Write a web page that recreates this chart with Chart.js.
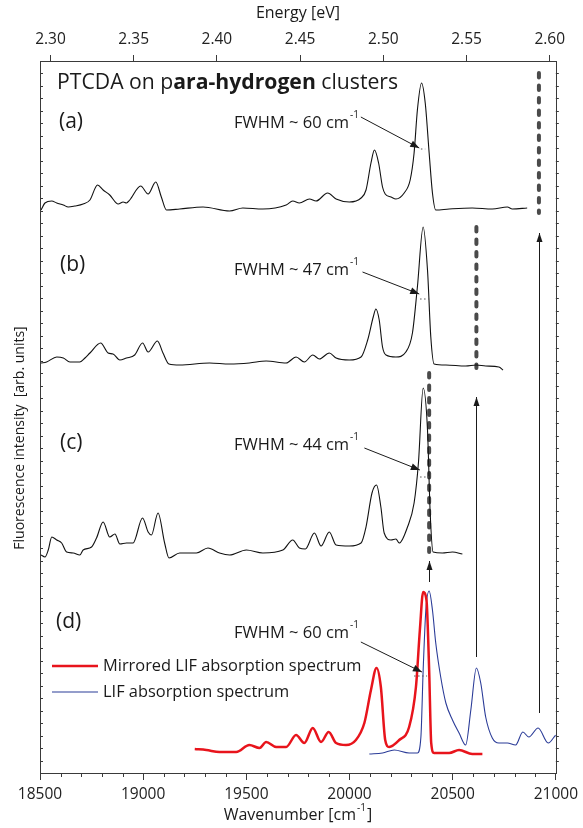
<!DOCTYPE html>
<html>
<head>
<meta charset="utf-8">
<script src="https://cdn.jsdelivr.net/npm/chart.js@4.4.1/dist/chart.umd.min.js"></script>
<style>
  html, body { margin: 0; padding: 0; background: #fff; }
  #wrap { width: 583px; height: 828px; position: relative; }
</style>
</head>
<body>
<div id="wrap"><canvas id="chart"></canvas></div>
<script>
// axis ticks
const wavenumberTicks = [18500, 19000, 19500, 20000, 20500, 21000];
const energyTicks = [2.30, 2.35, 2.40, 2.45, 2.50, 2.55, 2.60];
const EV = 8065.54; // cm-1 per eV

// (a) fluorescence, stacked (arb. units)
const waveA = [18505,18524,18557,18581,18613,18637,18669,18709,18742,18779,18806,18838,18879,18903,18919,18935,18988,19024,19061,19088,19113,19177,19290,19419,19483,19580,19693,19725,19757,19806,19838,19894,19935,19999,20056,20080,20104,20121,20141,20160,20173,20201,20225,20265,20294,20313,20329,20349,20367,20386,20402,20418,20483,20595,20692,20765,20789,20861];
const intensA = [563,570,572,570,568,566,567,569,573,588,583,578,569,571,570,573,587,579,591,576,563,564,566,562,565,564,568,572,570,574,572,580,574,571,575,583,610,623,610,586,579,576,574,580,593,620,663,690,670,620,580,563,564,565,564,566,564,565];

// (b)
const waveB = [18505,18532,18581,18613,18645,18693,18718,18742,18794,18830,18854,18887,18919,18959,18997,19024,19069,19096,19125,19177,19322,19419,19515,19596,19693,19741,19781,19822,19854,19902,19935,19999,20056,20088,20115,20128,20144,20160,20177,20225,20273,20305,20329,20357,20378,20394,20410,20467,20563,20615,20660,20724,20744];
const intensB = [410,411,416,415,411,411,415,420,430,420,419,413,415,418,430,421,432,420,409,408,410,409,410,412,410,416,411,418,414,420,415,413,416,433,456,464,453,426,418,416,421,440,486,546,503,436,409,408,407,408,407,406,403];

// (c)
const waveC = [18505,18524,18540,18557,18581,18605,18629,18661,18693,18709,18750,18774,18806,18838,18863,18887,18919,18951,18997,19024,19040,19072,19104,19125,19177,19258,19314,19370,19419,19500,19580,19677,19725,19757,19786,19830,19862,19902,19935,19999,20056,20080,20109,20131,20152,20168,20201,20225,20241,20281,20313,20334,20357,20378,20391,20405,20450,20499,20547];
const intensC = [218,216,223,236,233,230,221,220,218,223,226,235,251,236,239,229,230,230,255,241,238,260,230,215,220,220,225,220,218,223,220,223,233,225,224,240,227,241,228,227,230,246,280,288,266,240,233,234,230,246,270,310,385,343,260,221,220,221,219];

// (d) mirrored LIF absorption
const waveMirror = [19250,19306,19370,19451,19515,19564,19596,19645,19693,19741,19781,19822,19862,19899,19935,19983,20031,20072,20104,20131,20152,20173,20192,20241,20289,20322,20341,20357,20373,20386,20396,20410,20483,20531,20595,20644];
const intensMirror = [24,23,21,21,28,25,31,26,26,38,30,45,31,41,30,28,33,50,83,105,86,33,26,33,46,86,143,181,173,103,30,20,20,23,19,19];

// (d) LIF absorption
const waveLIF = [20096,20160,20217,20289,20329,20346,20357,20370,20386,20402,20418,20442,20467,20499,20531,20563,20588,20615,20636,20660,20692,20724,20765,20805,20840,20869,20914,20963,20999];
const intensLIF = [19,20,23,20,20,36,103,163,182,163,130,96,70,53,40,28,63,105,90,56,35,30,30,28,41,36,45,30,38];

// 0-0 band positions (dashed) and their ranges
const bandWave = [20918, 20615, 20386];
const bandTop = [700, 546, 400];
const bandBottom = [560, 405, 221];

// arrows from the LIF bands up to the cluster 0-0 bands
const arrowFrom = [60, 116, 191];
const arrowTo = [540, 376, 212];

// FWHM labels
const fwhmText = ['60', '47', '44', '60'];

const yTickStep = 712 / 57;

function pts(xs, ys) { return xs.map((v, i) => ({ x: v, y: ys[i] })); }

const FONT = "'Open Sans', 'DejaVu Sans', sans-serif";

function textSup(ctx, x, y, main, sup, size, align, tail) {
  ctx.font = size + 'px ' + FONT;
  const w1 = ctx.measureText(main).width;
  const supSize = Math.round(size * 0.62);
  ctx.font = supSize + 'px ' + FONT;
  const w2 = ctx.measureText(sup).width + 2;
  ctx.font = size + 'px ' + FONT;
  const w3 = tail ? ctx.measureText(tail).width : 0;
  let x0 = x;
  if (align === 'center') x0 = x - (w1 + w2 + w3) / 2;
  ctx.textAlign = 'left';
  ctx.fillText(main, x0, y);
  if (tail) ctx.fillText(tail, x0 + w1 + w2, y);
  ctx.font = supSize + 'px ' + FONT;
  ctx.fillText(sup, x0 + w1 + 1, y - size * 0.45);
}

function arrow(ctx, x1, y1, x2, y2, len, half) {
  ctx.beginPath();
  ctx.moveTo(x1, y1);
  ctx.lineTo(x2, y2);
  ctx.stroke();
  const ang = Math.atan2(y2 - y1, x2 - x1);
  ctx.beginPath();
  ctx.moveTo(x2, y2);
  ctx.lineTo(x2 - len * Math.cos(ang) + half * Math.sin(ang), y2 - len * Math.sin(ang) - half * Math.cos(ang));
  ctx.lineTo(x2 - len * Math.cos(ang) - half * Math.sin(ang), y2 - len * Math.sin(ang) + half * Math.cos(ang));
  ctx.closePath();
  ctx.fill();
}

const overlay = {
  id: 'overlay',
  afterDatasetsDraw(chart) {
    const { ctx, chartArea: a, scales } = chart;
    const x = scales.x, y = scales.y;
    const px = v => x.getPixelForValue(v);
    const py = v => y.getPixelForValue(v);
    ctx.save();

    // frame
    ctx.strokeStyle = '#3a3a3a';
    ctx.lineWidth = 1;
    ctx.strokeRect(Math.round(a.left) + 0.5, Math.round(a.top) + 0.5,
      Math.round(a.right - a.left), Math.round(a.bottom - a.top));

    // minor ticks
    ctx.beginPath();
    for (let v = 18600; v < 21000; v += 100) {
      if (v % 500 === 0) continue;
      const xx = Math.round(px(v)) + 0.5;
      ctx.moveTo(xx, a.bottom); ctx.lineTo(xx, a.bottom + 4);
    }
    for (let k = 1; k < 57; k++) {
      const yy = Math.round(py(k * yTickStep)) + 0.5;
      ctx.moveTo(a.left, yy); ctx.lineTo(a.left + 3, yy);
      ctx.moveTo(a.right, yy); ctx.lineTo(a.right + 3, yy);
    }
    ctx.stroke();

    // vertical arrows
    ctx.strokeStyle = '#1a1a1a';
    ctx.fillStyle = '#1a1a1a';
    ctx.lineWidth = 1;
    bandWave.forEach((w, i) => {
      const xx = Math.round(px(w)) + 0.5;
      arrow(ctx, xx, py(arrowFrom[i]), xx, py(arrowTo[i]), 9, 3);
    });

    // FWHM arrows and half-max marks
    const fwhmFrom = [[20055, 656], [20063, 501], [20072, 325], [20055, 131]];
    const fwhmTip = [[20338, 625], [20338, 479], [20341, 303], [20351, 101]];
    const halfMax = [[20346, 20367, 624], [20342, 20386, 474], [20342, 20386, 296], [20313, 20376, 97]];
    fwhmFrom.forEach((f, i) => {
      ctx.strokeStyle = '#1a1a1a';
      arrow(ctx, px(f[0]), py(f[1]), px(fwhmTip[i][0]), py(fwhmTip[i][1]), 9, 3.5);
      ctx.save();
      ctx.setLineDash([1.5, 2.5]);
      ctx.strokeStyle = '#555';
      ctx.beginPath();
      ctx.moveTo(px(halfMax[i][0]), py(halfMax[i][2]));
      ctx.lineTo(px(halfMax[i][1]), py(halfMax[i][2]));
      ctx.stroke();
      ctx.restore();
    });

    // texts
    ctx.fillStyle = '#1a1a1a';
    ctx.textBaseline = 'middle';
    const fwhmY = [123, 270, 445, 633];
    fwhmY.forEach((ty, i) => {
      textSup(ctx, 234, ty, 'FWHM ~ ' + fwhmText[i] + ' cm', '-1', 16.5, 'left');
    });

    ctx.font = '21px ' + FONT;
    ctx.textAlign = 'left';
    ctx.fillText('(a)', 59, 122);
    ctx.fillText('(b)', 60, 265);
    ctx.fillText('(c)', 60, 443);
    ctx.fillText('(d)', 56, 622);

    // title with bold part
    let tx = 57;
    const parts = [['PTCDA on p', ''], ['ara-hydrogen', 'bold '], [' clusters', '']];
    parts.forEach(p => {
      ctx.font = p[1] + '21.2px ' + FONT;
      ctx.fillText(p[0], tx, 83);
      tx += ctx.measureText(p[0]).width;
    });

    // legend
    ctx.lineWidth = 2.5;
    ctx.strokeStyle = '#e8141c';
    ctx.beginPath(); ctx.moveTo(52, 666); ctx.lineTo(98, 666); ctx.stroke();
    ctx.lineWidth = 1.2;
    ctx.strokeStyle = '#2b3c98';
    ctx.beginPath(); ctx.moveTo(52, 692); ctx.lineTo(98, 692); ctx.stroke();
    ctx.font = '16.4px ' + FONT;
    ctx.fillText('Mirrored LIF absorption spectrum', 103, 666);
    ctx.fillText('LIF absorption spectrum', 103, 692);

    // axis titles
    ctx.font = '16px ' + FONT;
    ctx.textAlign = 'center';
    ctx.fillText('Energy [eV]', (a.left + a.right) / 2, 13);
    textSup(ctx, (a.left + a.right) / 2, 815, 'Wavenumber [cm', '-1', 16, 'center', ']');
    ctx.save();
    ctx.translate(20, 438);
    ctx.rotate(-Math.PI / 2);
    ctx.font = '14px ' + FONT;
    ctx.textAlign = 'center';
    ctx.fillText('Fluorescence intensity  [arb. units]', 0, 0);
    ctx.restore();

    ctx.restore();
  }
};

const spectrum = (data, color, width) => ({
  data, borderColor: color, borderWidth: width, pointRadius: 0,
  showLine: true, fill: false, cubicInterpolationMode: 'monotone', xAxisID: 'x', yAxisID: 'y'
});

const datasets = [
  spectrum(pts(waveA, intensA), '#111', 1.1),
  spectrum(pts(waveB, intensB), '#111', 1.1),
  spectrum(pts(waveC, intensC), '#111', 1.1),
  spectrum(pts(waveMirror, intensMirror), '#e8141c', 2.5),
  spectrum(pts(waveLIF, intensLIF), '#2b3c98', 1.1)
];
bandWave.forEach((w, i) => {
  datasets.push({
    data: [{ x: w, y: bandTop[i] }, { x: w, y: bandBottom[i] }],
    borderColor: '#4a4a4a', borderWidth: 4, borderDash: [4.5, 8], borderCapStyle: 'round',
    pointRadius: 0, showLine: true, tension: 0, xAxisID: 'x', yAxisID: 'y'
  });
});

Chart.defaults.font.family = FONT;

new Chart(document.getElementById('chart'), {
  type: 'scatter',
  data: { datasets },
  options: {
    responsive: true,
    maintainAspectRatio: false,
    animation: false,
    devicePixelRatio: 1,
    layout: { padding: { right: 26 } },
    plugins: { legend: { display: false }, tooltip: { enabled: false } },
    scales: {
      x: {
        type: 'linear', position: 'bottom', min: 18500, max: 21000,
        afterBuildTicks: s => { s.ticks = wavenumberTicks.map(v => ({ value: v })); },
        ticks: { font: { size: 15.5 }, color: '#222', padding: 5, maxRotation: 0, autoSkip: false, callback: v => String(v) },
        grid: { drawOnChartArea: false, tickLength: 7, color: '#3a3a3a' },
        border: { display: false },
        afterFit: s => { s.height = 55; }
      },
      x2: {
        type: 'linear', position: 'top', min: 18500 / EV, max: 21000 / EV,
        afterBuildTicks: s => { s.ticks = energyTicks.map(v => ({ value: v })); },
        ticks: { font: { size: 15.5 }, color: '#222', padding: 6, maxRotation: 0, autoSkip: false, callback: v => v.toFixed(2) },
        grid: { drawOnChartArea: false, tickLength: 6, color: '#3a3a3a' },
        border: { display: false },
        afterFit: s => { s.height = 61; }
      },
      y: {
        type: 'linear', min: 0, max: 712,
        ticks: { display: false },
        grid: { display: false },
        border: { display: false },
        afterFit: s => { s.width = 40; }
      }
    }
  },
  plugins: [overlay]
});
</script>
</body>
</html>
